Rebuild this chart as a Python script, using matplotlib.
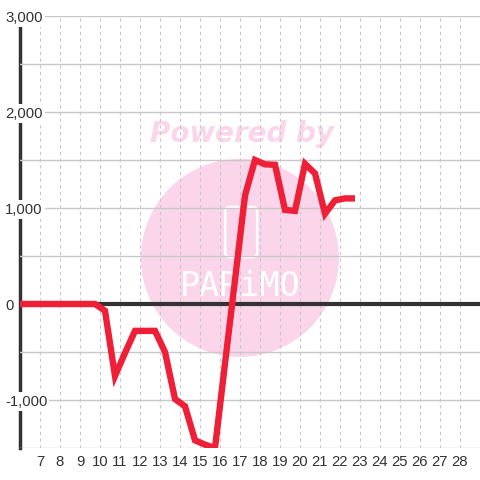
import matplotlib.pyplot as plt
from matplotlib.patches import Ellipse, FancyBboxPatch
from matplotlib.ticker import FuncFormatter

# half-day readings (x in days of month)
days = [5.75, 6.25, 6.75, 7.25, 7.75, 8.25, 8.75, 9.25, 9.75, 10.25,
        10.75, 11.25, 11.75, 12.25, 12.75, 13.25, 13.75, 14.25, 14.75, 15.25,
        15.75, 16.25, 16.75, 17.25, 17.75, 18.25, 18.75, 19.25, 19.75, 20.25,
        20.75, 21.25, 21.75, 22.25, 22.75]
values = [0, 0, 0, 0, 0, 0, 0, 0, 0, -70,
          -750, -510, -280, -280, -280, -500, -990, -1065, -1420, -1465,
          -1500, -620, 250, 1130, 1500, 1455, 1450, 980, 970, 1460,
          1360, 940, 1080, 1100, 1100]

xticks = list(range(7, 29))
yticks = [-1000, 0, 1000, 2000, 3000]
yminor = [-1500, -500, 500, 1500, 2500]

plt.rcParams['font.family'] = ['Liberation Sans', 'DejaVu Sans']

fig = plt.figure(figsize=(4.8, 4.8), dpi=100)
ax = fig.add_axes([20/480, 32/480, 460/480, 432/480])
ax.set_xlim(6, 29)
ax.set_ylim(-1500, 3000)

# watermark
ax.add_patch(Ellipse((0.478, 0.44), 198/460, 198/432, transform=ax.transAxes,
                     fc='#fbd5ea', ec='none', zorder=0.5))
ax.text(0.483, 0.727, 'Powered by', transform=ax.transAxes, ha='center', va='center',
        fontsize=20, fontweight='bold', fontstyle='oblique', color='#fbd6eb',
        family='DejaVu Sans', zorder=0.6)
ax.add_patch(FancyBboxPatch((0.446, 0.442), 0.0696, 0.116, transform=ax.transAxes,
                            boxstyle='round,pad=0,rounding_size=0.01', mutation_aspect=460/432,
                            fc='none', ec='white', lw=1.8, zorder=0.7))
ax.text(0.478, 0.373, 'PARiMO', transform=ax.transAxes, ha='center', va='center',
        fontsize=24, color='white', family='DejaVu Sans Mono', zorder=0.7)

ax.axhline(0, color='#333333', lw=3, zorder=3.5)
ax.plot(days, values, color='#ee1f36', lw=4.6, zorder=4,
        solid_joinstyle='miter', solid_capstyle='butt')

ax.set_xticks(xticks)
ax.set_yticks(yticks)
ax.set_yticks(yminor, minor=True)
ax.yaxis.set_major_formatter(FuncFormatter(lambda v, p: f"{v:,.0f}"))

ax.grid(axis='x', color='#c8c8c8', ls=(0, (3, 3)), lw=0.8)
ax.grid(axis='y', which='both', color='#c8c8c8', lw=1.0)

ax.tick_params(axis='x', length=0, pad=5, labelsize=10.7, labelcolor='#333333')
ax.tick_params(axis='y', which='both', length=0, pad=10.8, labelsize=10.7, labelcolor='#333333')
for lbl in ax.get_yticklabels():
    lbl.set_ha('left')
    lbl.set_bbox(dict(fc='white', ec='none', pad=1.5))

for s in ['top', 'right', 'bottom']:
    ax.spines[s].set_visible(False)
ax.spines['left'].set_color('#333333')
ax.spines['left'].set_linewidth(2.5)
ax.yaxis.set_zorder(3)

fig.savefig('out.png', dpi=100, facecolor='white')
